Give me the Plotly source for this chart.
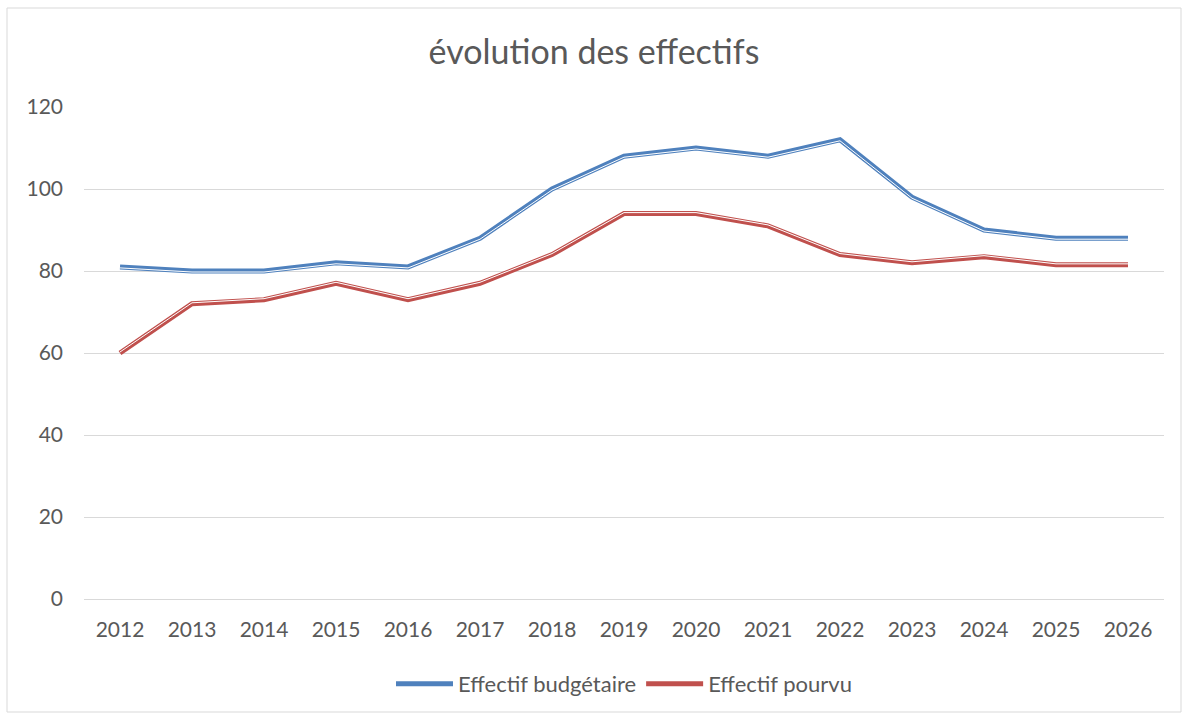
import plotly.graph_objects as go

years = [2012, 2013, 2014, 2015, 2016, 2017, 2018, 2019, 2020, 2021, 2022, 2023, 2024, 2025, 2026]
budgetaire = [81, 80, 80, 82, 81, 88, 100, 108, 110, 108, 112, 98, 90, 88, 88]
pourvu = [60, 72, 73, 77, 73, 77, 84, 94, 94, 91, 84, 82, 83.5, 81.5, 81.5]
series_names = ["Effectif budgétaire", "Effectif pourvu"]
colors = ["#4f81bd", "#c0504d"]
y_ticks = [0, 20, 40, 60, 80, 100, 120]

FONT = "Lato, Open Sans, sans-serif"
GREY = "#595959"

fig = go.Figure()
for i, (name, vals, col) in enumerate(zip(series_names, [budgetaire, pourvu], colors)):
    fig.add_trace(go.Scatter(x=years, y=vals, mode="lines", name=name,
                             legendgroup=f"g{i}",
                             line=dict(color=col, width=5), yaxis="y"))
# white separator of the compound (double) line: below centre for blue, above for red
for vals, ax in zip([budgetaire, pourvu], ["y2", "y3"]):
    fig.add_trace(go.Scatter(x=years, y=vals, mode="lines", showlegend=False,
                             hoverinfo="skip", line=dict(color="white", width=1),
                             yaxis=ax))

px_per_unit = 492 / 120
shift = 1.0 / px_per_unit

fig.update_layout(
    width=1188, height=718,
    margin=dict(l=84, r=24, t=107, b=119),
    paper_bgcolor="white", plot_bgcolor="white",
    title=dict(text="évolution des effectifs", x=0.5, xanchor="center",
               y=1 - 52 / 718, yanchor="middle",
               font=dict(family=FONT, size=34, color=GREY)),
    xaxis=dict(range=[2011.5, 2026.5], tickvals=years, ticktext=[str(y) for y in years],
               showgrid=False, showline=True, linecolor="#d9d9d9", linewidth=1,
               ticks="", zeroline=False, ticklabelstandoff=12,
               tickfont=dict(family=FONT, size=21, color=GREY)),
    yaxis=dict(range=[0, 120], tickvals=y_ticks, showgrid=True, gridcolor="#d9d9d9",
               gridwidth=1, zeroline=False, showline=False, ticks="",
               ticklabelstandoff=20,
               tickfont=dict(family=FONT, size=21, color=GREY)),
    yaxis2=dict(range=[shift, 120 + shift], overlaying="y", visible=False),
    yaxis3=dict(range=[-shift, 120 - shift], overlaying="y", visible=False),
    legend=dict(orientation="h", x=0.5, xanchor="center", y=(599 - 684) / 492,
                yanchor="middle", font=dict(family=FONT, size=22, color=GREY),
                itemwidth=57, tracegroupgap=18),
    showlegend=True,
    shapes=[dict(type="rect", xref="paper", yref="paper",
                 x0=(7 - 84) / 1080, x1=(1181 - 84) / 1080,
                 y0=(599 - 712) / 492, y1=(599 - 8) / 492,
                 line=dict(color="#d9d9d9", width=1), fillcolor="rgba(0,0,0,0)",
                 layer="below")],
)

fig.write_html("out.html", config={"displayModeBar": False},
               post_script="document.body.style.margin='0';")
